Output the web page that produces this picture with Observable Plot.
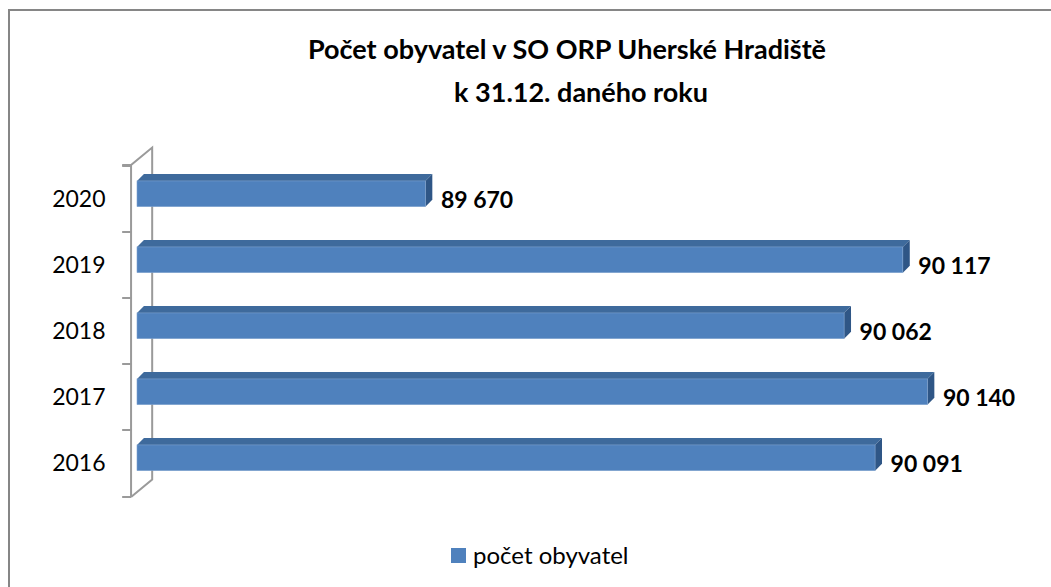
<!DOCTYPE html>
<html><head><meta charset="utf-8">
<script src="https://cdn.jsdelivr.net/npm/d3@7"></script>
<script src="https://cdn.jsdelivr.net/npm/@observablehq/plot@0.6"></script>
<style>
html,body{margin:0;padding:0;background:#fff;overflow:hidden;}
#wrap{position:relative;width:1051px;height:587px;overflow:hidden;font-family:Lato,"Open Sans",sans-serif;}
#frame{position:absolute;left:8px;top:9px;width:1100px;height:700px;border:2px solid #868686;box-sizing:border-box;}
.t{position:absolute;font-weight:bold;font-size:27px;line-height:27px;color:#000;white-space:nowrap;transform:translateX(-50%);}
#chart{position:absolute;left:0;top:0;}
#legend{position:absolute;left:451px;top:543px;height:24px;font-size:24px;line-height:24px;display:flex;align-items:center;color:#000;}
#legend .sw{display:inline-block;width:15px;height:15px;background:#4F81BD;margin-right:7px;}
</style></head>
<body><div id="wrap"><div id="frame"></div><div id="chart"></div>
<div class="t" id="t1" style="left:567px;top:35px"></div>
<div class="t" id="t2" style="left:581px;top:78px"></div>
<div id="legend"><span class="sw"></span><span id="legtext"></span></div>
</div>
<script>
const years = ["2016", "2017", "2018", "2019", "2020"];
const population = [90091, 90140, 90062, 90117, 89670];
const seriesName = "počet obyvatel";
const titleLine1 = "Počet obyvatel v SO ORP Uherské Hradiště";
const titleLine2 = "k 31.12. daného roku";
const xDomain = [89400, 90200];

const frontColor = "#4F81BD", topColor = "#3E6A9C", sideColor = "#2F5686", wallColor = "#9a9a9a";
const data = years.map((y, i) => ({year: y, value: population[i]}));
const fmt = v => d3.format(",")(v).replace(/,/g, " ");

document.getElementById("t1").textContent = titleLine1;
document.getElementById("t2").textContent = titleLine2;
document.getElementById("legtext").textContent = seriesName;

function bw(y) { return typeof y.bandwidth === "function" ? y.bandwidth() : y.bandwidth; }

function wall(index, scales) {
  const x = scales.x, y = scales.y;
  const b = bw(y);
  const r = y.range ? y.range() : [165, 497];
  const x0 = x(xDomain[0]);
  const xf = x0 - b * 0.09, dx = b * 0.32, dy = b * 0.265;
  const g = d3.create("svg:g").attr("stroke", wallColor).attr("stroke-width", 2).attr("fill", "none");
  const top = Math.min(r[0], r[1]), bot = Math.max(r[0], r[1]);
  g.append("polyline").attr("points", [[xf, bot], [xf, top], [xf + dx, top - dy], [xf + dx, bot - dy], [xf, bot]].join(" "));
  const bounds = years.map(v => y(v)).concat([top, bot]);
  bounds.forEach(t => g.append("line").attr("x1", xf - b * 0.135).attr("x2", xf).attr("y1", t).attr("y2", t));
  return g.node();
}

function bars3d(index, scales) {
  const x = scales.x, y = scales.y;
  const b = bw(y);
  const x0 = x(xDomain[0]);
  const d = b * 0.105;
  const g = d3.create("svg:g");
  data.forEach(r => {
    const top = y(r.year) + b * 0.226, h = b * 0.39, xe = x(r.value);
    g.append("polygon").attr("points", [[x0, top], [x0 + d, top - d], [xe + d, top - d], [xe, top]].join(" ")).attr("fill", topColor);
    g.append("polygon").attr("points", [[xe, top], [xe + d, top - d], [xe + d, top + h - d], [xe, top + h]].join(" ")).attr("fill", sideColor);
    g.append("rect").attr("x", x0).attr("y", top).attr("width", xe - x0).attr("height", h).attr("fill", frontColor)
      .attr("stroke", "#7fa2cf").attr("stroke-width", 0.6);
  });
  return g.node();
}

const chart = Plot.plot({
  width: 1051,
  height: 587,
  marginLeft: 137,
  marginRight: 59.5,
  style: {fontFamily: "Lato, 'Open Sans', sans-serif", fontSize: "23px", color: "#000", background: "transparent"},
  x: {domain: xDomain, range: [137, 991.5], axis: null},
  y: {type: "band", domain: years.slice().reverse(), range: [165, 497], padding: 0, tickSize: 0, tickPadding: 32, label: null},
  marks: [
    wall,
    bars3d,
    Plot.text(data, {x: "value", y: "year", text: d => fmt(d.value), dx: 15, dy: 1, textAnchor: "start", fontWeight: "bold", fontSize: 23, fill: "#000"})
  ]
});
document.getElementById("chart").appendChild(chart);
</script>
</body></html>
